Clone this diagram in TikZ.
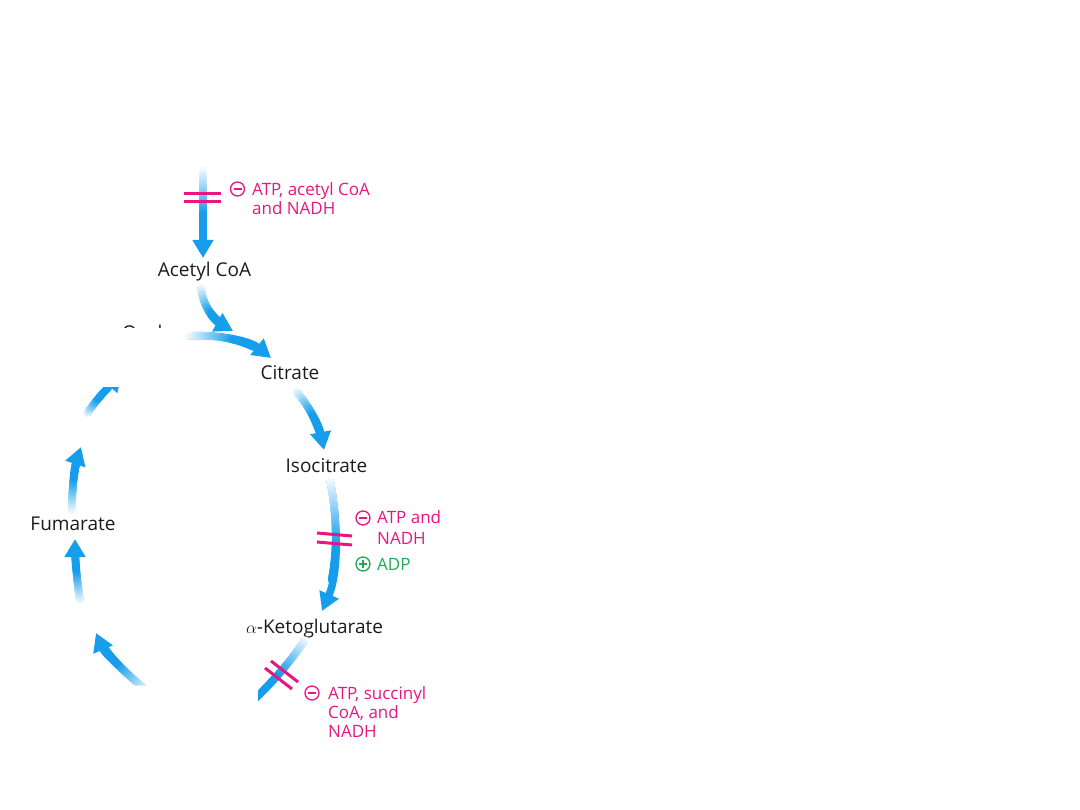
\documentclass[tikz,border=0pt]{standalone}
\usepackage{fontspec}
\setmainfont{Open Sans}
\usetikzlibrary{arrows.meta}
\definecolor{arrowblue}{RGB}{22,158,236}
\definecolor{inhpink}{RGB}{232,22,128}
\definecolor{actgreen}{RGB}{34,168,80}
\definecolor{labeltext}{RGB}{28,28,28}
\newcommand{\gradarrow}[4]{%
  \draw[arrowblue, line width=7.5pt, -{Triangle[width=20pt,length=18pt]}] #1 .. controls #2 and #3 .. #4;
  \foreach \i in {0,...,29}{%
    \pgfmathsetmacro{\ta}{\i/40}%
    \pgfmathsetmacro{\tb}{(\i+1)/40}%
    \pgfmathtruncatemacro{\pc}{min(100,4+96*\i/20)}%
    \path #1 .. controls #2 and #3 .. #4 coordinate[pos=\ta] (ga) coordinate[pos=\tb] (gb);
    \draw[line width=7.5pt, line cap=round, color=arrowblue!\pc!white] (ga) -- (gb);
  }%
}
\tikzset{
  metab/.style={anchor=base, inner sep=0pt, text=labeltext, font=\fontsize{19}{22}\selectfont},
  effector/.style={anchor=base west, inner sep=0pt, align=left, font=\fontsize{17}{19}\selectfont},
  sign/.style={circle, draw, line width=1.3pt, minimum size=14pt, inner sep=0pt},
  inhbar/.style={draw=inhpink, line width=3pt},
}
\begin{document}
\begin{tikzpicture}[x=1pt,y=-1pt]
\useasboundingbox (0,0) rectangle (1080,810);

% metabolite labels
\node[metab] (acetyl) at (204.5,277) {Acetyl CoA};
\node[metab] (citrate) at (290,380) {Citrate};
\node[metab] (isocitrate) at (326.5,472) {Isocitrate};
\node[metab] (akg) at (314.5,633) {$\alpha$-Ketoglutarate};
\node[metab] (fumarate) at (73,530) {Fumarate};
\begin{scope}
  \clip (0,0) rectangle (185,327.5);
  \node[metab, anchor=north west] (oxalo) at (122,324.5) {Oxaloacetate};
\end{scope}

% arrow end points
\coordinate (a0s) at (203,170);  \coordinate (a0e) at (203,258);
\coordinate (a1s) at (201,287);  \coordinate (a1e) at (233,331);
\coordinate (a2s) at (188,336);  \coordinate (a2e) at (271,358);
\coordinate (a3s) at (296,391);  \coordinate (a3e) at (324,450);
\coordinate (a4s) at (330,480);  \coordinate (a4e) at (322,611);
\coordinate (a5s) at (305,640);  \coordinate (a5e) at (230,722);
\coordinate (a6s) at (148,692);  \coordinate (a6e) at (96,633);
\coordinate (a7s) at (80,601);   \coordinate (a7e) at (75,539);
\coordinate (a8s) at (72,511);   \coordinate (a8e) at (81,447);
\coordinate (a9s) at (87,414);   \coordinate (a9e) at (122,373);

% arrows
\gradarrow{(a0s)}{(203,200)}{(203,230)}{(a0e)}
\gradarrow{(a1s)}{(203,308)}{(215,321)}{(a1e)}
\gradarrow{(a2s)}{(220,334)}{(250,341)}{(a2e)}
\gradarrow{(a3s)}{(308,405)}{(319,424)}{(a3e)}
\gradarrow{(a4s)}{(338,520)}{(339,572)}{(a4e)}
\begin{scope}
  \clip (0,0) rectangle (1080,685) (258,685) rectangle (1080,810);
  \gradarrow{(a5s)}{(290,662)}{(272,684)}{(a5e)}
  \gradarrow{(a6s)}{(126,673)}{(105,654)}{(a6e)}
\end{scope}
\gradarrow{(a7s)}{(77,580)}{(75,560)}{(a7e)}
\gradarrow{(a8s)}{(72,488)}{(74,468)}{(a8e)}
\begin{scope}
  \clip (0,388) rectangle (200,810);
  \gradarrow{(a9s)}{(93,404)}{(100,396)}{(a9e)}
\end{scope}

% inhibition bars
\draw[inhbar] (184,194) -- (221,194);
\draw[inhbar] (184,202) -- (221,202);
\draw[inhbar] (317,533) -- (352,536);
\draw[inhbar] (317,542) -- (352,545);
\draw[inhbar] (271,661) -- (298,682);
\draw[inhbar] (265,668) -- (292,689);

% effectors
\node[sign, draw=inhpink] (m1) at (237.5,189) {};
\draw[inhpink, line width=1.3pt] ([xshift=-4pt]m1.center) -- ([xshift=4pt]m1.center);
\node[effector, text=inhpink] (e1) at (252,215) {ATP, acetyl CoA\\and NADH};

\node[sign, draw=inhpink] (m2) at (363,518) {};
\draw[inhpink, line width=1.3pt] ([xshift=-4pt]m2.center) -- ([xshift=4pt]m2.center);
\node[effector, text=inhpink, font=\fontsize{17}{21}\selectfont] (e2) at (377,544) {ATP and\\NADH};

\node[sign, draw=actgreen] (p2) at (363,564) {};
\draw[actgreen, line width=1.3pt] ([xshift=-4pt]p2.center) -- ([xshift=4pt]p2.center)
  ([yshift=-4pt]p2.center) -- ([yshift=4pt]p2.center);
\node[effector, text=actgreen] (e3) at (377,570) {ADP};

\node[sign, draw=inhpink] (m3) at (312,693) {};
\draw[inhpink, line width=1.3pt] ([xshift=-4pt]m3.center) -- ([xshift=4pt]m3.center);
\node[effector, text=inhpink] (e4) at (328,737) {ATP, succinyl\\CoA, and\\NADH};
\end{tikzpicture}
\end{document}
